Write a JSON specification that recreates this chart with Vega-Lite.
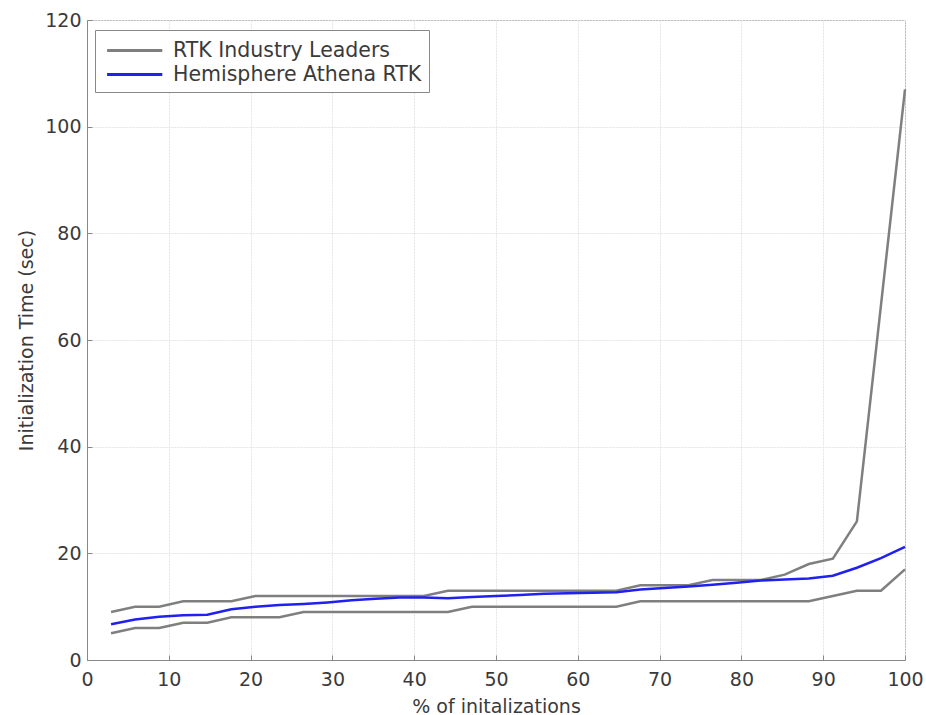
{
  "$schema": "https://vega.github.io/schema/vega-lite/v6.json",
  "width": 818,
  "height": 640,
  "autosize": {"type": "none"},
  "padding": {"left": 87, "top": 20, "right": 21, "bottom": 55},
  "background": "white",
  "config": {
    "font": "DejaVu Sans",
    "view": {"stroke": "#999", "strokeWidth": 1},
    "axis": {
      "labelFont": "DejaVu Sans",
      "titleFont": "DejaVu Sans",
      "labelFontSize": 19,
      "titleFontSize": 19,
      "titleFontWeight": "normal",
      "labelColor": "#3a3a3a",
      "titleColor": "#3a3a3a",
      "domainColor": "#888",
      "tickColor": "#888",
      "gridColor": "#e4e4e4",
      "gridDash": [2, 1]
    }
  },
  "data": {
    "values": [
      {"pct": 2.94, "y": 9, "line": "upper", "series": "RTK Industry Leaders"},
      {"pct": 5.88, "y": 10, "line": "upper", "series": "RTK Industry Leaders"},
      {"pct": 8.82, "y": 10, "line": "upper", "series": "RTK Industry Leaders"},
      {"pct": 11.76, "y": 11, "line": "upper", "series": "RTK Industry Leaders"},
      {"pct": 14.71, "y": 11, "line": "upper", "series": "RTK Industry Leaders"},
      {"pct": 17.65, "y": 11, "line": "upper", "series": "RTK Industry Leaders"},
      {"pct": 20.59, "y": 12, "line": "upper", "series": "RTK Industry Leaders"},
      {"pct": 23.53, "y": 12, "line": "upper", "series": "RTK Industry Leaders"},
      {"pct": 26.47, "y": 12, "line": "upper", "series": "RTK Industry Leaders"},
      {"pct": 29.41, "y": 12, "line": "upper", "series": "RTK Industry Leaders"},
      {"pct": 32.35, "y": 12, "line": "upper", "series": "RTK Industry Leaders"},
      {"pct": 35.29, "y": 12, "line": "upper", "series": "RTK Industry Leaders"},
      {"pct": 38.24, "y": 12, "line": "upper", "series": "RTK Industry Leaders"},
      {"pct": 41.18, "y": 12, "line": "upper", "series": "RTK Industry Leaders"},
      {"pct": 44.12, "y": 13, "line": "upper", "series": "RTK Industry Leaders"},
      {"pct": 47.06, "y": 13, "line": "upper", "series": "RTK Industry Leaders"},
      {"pct": 50.0, "y": 13, "line": "upper", "series": "RTK Industry Leaders"},
      {"pct": 52.94, "y": 13, "line": "upper", "series": "RTK Industry Leaders"},
      {"pct": 55.88, "y": 13, "line": "upper", "series": "RTK Industry Leaders"},
      {"pct": 58.82, "y": 13, "line": "upper", "series": "RTK Industry Leaders"},
      {"pct": 61.76, "y": 13, "line": "upper", "series": "RTK Industry Leaders"},
      {"pct": 64.71, "y": 13, "line": "upper", "series": "RTK Industry Leaders"},
      {"pct": 67.65, "y": 14, "line": "upper", "series": "RTK Industry Leaders"},
      {"pct": 70.59, "y": 14, "line": "upper", "series": "RTK Industry Leaders"},
      {"pct": 73.53, "y": 14, "line": "upper", "series": "RTK Industry Leaders"},
      {"pct": 76.47, "y": 15, "line": "upper", "series": "RTK Industry Leaders"},
      {"pct": 79.41, "y": 15, "line": "upper", "series": "RTK Industry Leaders"},
      {"pct": 82.35, "y": 15, "line": "upper", "series": "RTK Industry Leaders"},
      {"pct": 85.29, "y": 16, "line": "upper", "series": "RTK Industry Leaders"},
      {"pct": 88.24, "y": 18, "line": "upper", "series": "RTK Industry Leaders"},
      {"pct": 91.18, "y": 19, "line": "upper", "series": "RTK Industry Leaders"},
      {"pct": 94.12, "y": 26, "line": "upper", "series": "RTK Industry Leaders"},
      {"pct": 97.06, "y": 66.5, "line": "upper", "series": "RTK Industry Leaders"},
      {"pct": 100.0, "y": 107, "line": "upper", "series": "RTK Industry Leaders"},

      {"pct": 2.94, "y": 5, "line": "lower", "series": "RTK Industry Leaders"},
      {"pct": 5.88, "y": 6, "line": "lower", "series": "RTK Industry Leaders"},
      {"pct": 8.82, "y": 6, "line": "lower", "series": "RTK Industry Leaders"},
      {"pct": 11.76, "y": 7, "line": "lower", "series": "RTK Industry Leaders"},
      {"pct": 14.71, "y": 7, "line": "lower", "series": "RTK Industry Leaders"},
      {"pct": 17.65, "y": 8, "line": "lower", "series": "RTK Industry Leaders"},
      {"pct": 20.59, "y": 8, "line": "lower", "series": "RTK Industry Leaders"},
      {"pct": 23.53, "y": 8, "line": "lower", "series": "RTK Industry Leaders"},
      {"pct": 26.47, "y": 9, "line": "lower", "series": "RTK Industry Leaders"},
      {"pct": 29.41, "y": 9, "line": "lower", "series": "RTK Industry Leaders"},
      {"pct": 32.35, "y": 9, "line": "lower", "series": "RTK Industry Leaders"},
      {"pct": 35.29, "y": 9, "line": "lower", "series": "RTK Industry Leaders"},
      {"pct": 38.24, "y": 9, "line": "lower", "series": "RTK Industry Leaders"},
      {"pct": 41.18, "y": 9, "line": "lower", "series": "RTK Industry Leaders"},
      {"pct": 44.12, "y": 9, "line": "lower", "series": "RTK Industry Leaders"},
      {"pct": 47.06, "y": 10, "line": "lower", "series": "RTK Industry Leaders"},
      {"pct": 50.0, "y": 10, "line": "lower", "series": "RTK Industry Leaders"},
      {"pct": 52.94, "y": 10, "line": "lower", "series": "RTK Industry Leaders"},
      {"pct": 55.88, "y": 10, "line": "lower", "series": "RTK Industry Leaders"},
      {"pct": 58.82, "y": 10, "line": "lower", "series": "RTK Industry Leaders"},
      {"pct": 61.76, "y": 10, "line": "lower", "series": "RTK Industry Leaders"},
      {"pct": 64.71, "y": 10, "line": "lower", "series": "RTK Industry Leaders"},
      {"pct": 67.65, "y": 11, "line": "lower", "series": "RTK Industry Leaders"},
      {"pct": 70.59, "y": 11, "line": "lower", "series": "RTK Industry Leaders"},
      {"pct": 73.53, "y": 11, "line": "lower", "series": "RTK Industry Leaders"},
      {"pct": 76.47, "y": 11, "line": "lower", "series": "RTK Industry Leaders"},
      {"pct": 79.41, "y": 11, "line": "lower", "series": "RTK Industry Leaders"},
      {"pct": 82.35, "y": 11, "line": "lower", "series": "RTK Industry Leaders"},
      {"pct": 85.29, "y": 11, "line": "lower", "series": "RTK Industry Leaders"},
      {"pct": 88.24, "y": 11, "line": "lower", "series": "RTK Industry Leaders"},
      {"pct": 91.18, "y": 12, "line": "lower", "series": "RTK Industry Leaders"},
      {"pct": 94.12, "y": 13, "line": "lower", "series": "RTK Industry Leaders"},
      {"pct": 97.06, "y": 13, "line": "lower", "series": "RTK Industry Leaders"},
      {"pct": 100.0, "y": 17, "line": "lower", "series": "RTK Industry Leaders"},

      {"pct": 2.94, "y": 6.7, "line": "athena", "series": "Hemisphere Athena RTK"},
      {"pct": 5.88, "y": 7.6, "line": "athena", "series": "Hemisphere Athena RTK"},
      {"pct": 8.82, "y": 8.1, "line": "athena", "series": "Hemisphere Athena RTK"},
      {"pct": 11.76, "y": 8.4, "line": "athena", "series": "Hemisphere Athena RTK"},
      {"pct": 14.71, "y": 8.5, "line": "athena", "series": "Hemisphere Athena RTK"},
      {"pct": 17.65, "y": 9.5, "line": "athena", "series": "Hemisphere Athena RTK"},
      {"pct": 20.59, "y": 10.0, "line": "athena", "series": "Hemisphere Athena RTK"},
      {"pct": 23.53, "y": 10.3, "line": "athena", "series": "Hemisphere Athena RTK"},
      {"pct": 26.47, "y": 10.5, "line": "athena", "series": "Hemisphere Athena RTK"},
      {"pct": 29.41, "y": 10.8, "line": "athena", "series": "Hemisphere Athena RTK"},
      {"pct": 32.35, "y": 11.2, "line": "athena", "series": "Hemisphere Athena RTK"},
      {"pct": 35.29, "y": 11.5, "line": "athena", "series": "Hemisphere Athena RTK"},
      {"pct": 38.24, "y": 11.7, "line": "athena", "series": "Hemisphere Athena RTK"},
      {"pct": 41.18, "y": 11.7, "line": "athena", "series": "Hemisphere Athena RTK"},
      {"pct": 44.12, "y": 11.6, "line": "athena", "series": "Hemisphere Athena RTK"},
      {"pct": 47.06, "y": 11.8, "line": "athena", "series": "Hemisphere Athena RTK"},
      {"pct": 50.0, "y": 12.0, "line": "athena", "series": "Hemisphere Athena RTK"},
      {"pct": 52.94, "y": 12.2, "line": "athena", "series": "Hemisphere Athena RTK"},
      {"pct": 55.88, "y": 12.4, "line": "athena", "series": "Hemisphere Athena RTK"},
      {"pct": 58.82, "y": 12.5, "line": "athena", "series": "Hemisphere Athena RTK"},
      {"pct": 61.76, "y": 12.6, "line": "athena", "series": "Hemisphere Athena RTK"},
      {"pct": 64.71, "y": 12.7, "line": "athena", "series": "Hemisphere Athena RTK"},
      {"pct": 67.65, "y": 13.2, "line": "athena", "series": "Hemisphere Athena RTK"},
      {"pct": 70.59, "y": 13.5, "line": "athena", "series": "Hemisphere Athena RTK"},
      {"pct": 73.53, "y": 13.8, "line": "athena", "series": "Hemisphere Athena RTK"},
      {"pct": 76.47, "y": 14.1, "line": "athena", "series": "Hemisphere Athena RTK"},
      {"pct": 79.41, "y": 14.5, "line": "athena", "series": "Hemisphere Athena RTK"},
      {"pct": 82.35, "y": 14.9, "line": "athena", "series": "Hemisphere Athena RTK"},
      {"pct": 85.29, "y": 15.1, "line": "athena", "series": "Hemisphere Athena RTK"},
      {"pct": 88.24, "y": 15.3, "line": "athena", "series": "Hemisphere Athena RTK"},
      {"pct": 91.18, "y": 15.8, "line": "athena", "series": "Hemisphere Athena RTK"},
      {"pct": 94.12, "y": 17.3, "line": "athena", "series": "Hemisphere Athena RTK"},
      {"pct": 97.06, "y": 19.1, "line": "athena", "series": "Hemisphere Athena RTK"},
      {"pct": 100.0, "y": 21.2, "line": "athena", "series": "Hemisphere Athena RTK"}
    ]
  },
  "mark": {"type": "line", "strokeWidth": 2.5, "interpolate": "linear"},
  "encoding": {
    "x": {
      "field": "pct",
      "type": "quantitative",
      "scale": {"domain": [0, 100], "nice": false},
      "axis": {"title": "% of initalizations", "values": [0, 10, 20, 30, 40, 50, 60, 70, 80, 90, 100], "tickSize": -5, "labelPadding": 15, "titlePadding": 8, "labelFlush": false}
    },
    "y": {
      "field": "y",
      "type": "quantitative",
      "scale": {"domain": [0, 120], "nice": false},
      "axis": {"title": "Initialization Time (sec)", "values": [0, 20, 40, 60, 80, 100, 120], "tickSize": -5, "labelPadding": 11, "titlePadding": 8}
    },
    "detail": {"field": "line"},
    "color": {
      "field": "series",
      "type": "nominal",
      "scale": {"domain": ["RTK Industry Leaders", "Hemisphere Athena RTK"], "range": ["#7f7f7f", "#2020f0"]},
      "legend": {
        "title": null,
        "orient": "none",
        "legendX": 8,
        "legendY": 10,
        "direction": "vertical",
        "symbolType": "M-0.7,0H3.9",
        "symbolSize": 576,
        "symbolStrokeWidth": 3,
        "symbolFillColor": "transparent",
        "labelFontSize": 20.5,
        "labelColor": "#3a3a3a",
        "labelFont": "DejaVu Sans",
        "labelLimit": 400,
        "rowPadding": 0,
        "padding": 7,
        "strokeColor": "#888",
        "fillColor": "white",
        "labelOffset": 44
      }
    }
  }
}
